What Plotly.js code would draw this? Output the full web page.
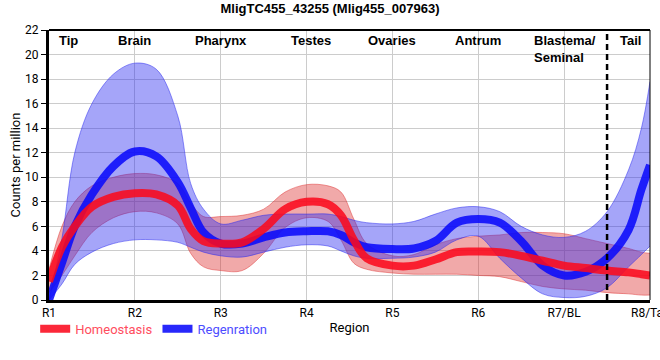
<!DOCTYPE html>
<html>
<head>
<meta charset="utf-8">
<script src="https://cdn.plot.ly/plotly-3.0.1.min.js"></script>
<style>html,body{margin:0;padding:0;background:#fff;}#chart{width:660px;height:360px;}</style>
</head>
<body>
<div id="chart"></div>
<script>
// Region tick labels
const tickPos = [1, 2, 3, 4, 5, 6, 7, 8];
const tickLabels = ['R1', 'R2', 'R3', 'R4', 'R5', 'R6', 'R7/BL', 'R8/Tail'];

// Sample positions along the body axis (region index)
const regionPos = [1, 1.15, 1.3, 1.5, 1.75, 2, 2.25, 2.5, 2.65, 2.8, 3, 3.25, 3.5, 3.75, 4, 4.25, 4.4, 4.55, 4.7, 5, 5.25, 5.5, 5.75, 6, 6.25, 6.5, 6.75, 7, 7.25, 7.5, 7.75, 7.9, 8];

// Homeostasis
const homeoMean  = [1.5, 4.3, 6.0, 7.6, 8.4, 8.7, 8.6, 7.7, 5.8, 4.8, 4.6, 4.7, 5.8, 7.4, 8.0, 7.8, 6.9, 4.9, 3.4, 2.8, 2.8, 3.3, 3.9, 3.95, 3.9, 3.6, 3.2, 2.8, 2.6, 2.4, 2.25, 2.1, 2.0];
const homeoUpper = [2.5, 6.0, 8.0, 9.3, 10.0, 10.3, 10.2, 9.5, 7.9, 6.8, 6.8, 6.9, 7.4, 8.8, 9.4, 9.3, 8.8, 6.6, 4.6, 3.6, 3.7, 4.5, 5.0, 5.2, 5.3, 5.5, 5.5, 5.4, 5.0, 4.6, 4.2, 3.9, 3.8];
const homeoLower = [0.6, 2.0, 3.6, 5.5, 6.7, 7.2, 7.1, 6.2, 3.8, 2.7, 2.4, 2.4, 3.8, 5.9, 6.7, 6.4, 4.9, 3.0, 2.5, 2.2, 2.1, 2.1, 2.1, 2.0, 1.9, 1.5, 1.1, 0.9, 0.8, 0.6, 0.5, 0.4, 0.4];

// Regeneration
const regenMean  = [0, 3.0, 6.0, 8.6, 10.9, 12.1, 11.7, 9.6, 7.5, 5.5, 4.6, 4.6, 5.1, 5.5, 5.6, 5.6, 5.3, 4.7, 4.3, 4.15, 4.2, 4.8, 6.3, 6.6, 6.3, 4.8, 2.8, 2.0, 2.3, 3.4, 5.7, 9.0, 11.0];
const regenUpper = [0, 5.0, 12.0, 16.0, 18.4, 19.3, 18.8, 15.0, 9.5, 7.4, 6.2, 6.5, 6.9, 7.0, 7.0, 7.0, 6.8, 6.5, 6.3, 6.2, 6.4, 7.0, 7.5, 7.6, 7.2, 6.0, 5.3, 5.1, 5.6, 7.2, 10.6, 14.0, 17.8];
const regenLower = [0, 1.3, 2.9, 3.9, 4.6, 4.9, 4.9, 4.7, 4.3, 3.9, 3.6, 3.5, 3.9, 4.3, 4.5, 4.4, 4.0, 3.6, 3.4, 3.4, 3.5, 3.9, 4.9, 5.2, 3.4, 1.8, 0.5, 0.2, 0.3, 1.0, 2.7, 3.7, 4.4];

// Region names shown at top
const regionNames = ['Tip', 'Brain', 'Pharynx', 'Testes', 'Ovaries', 'Antrum', 'Tail'];
const regionNamePos = [1.23, 2, 3, 4.05, 5, 6, 7.77];

const redFill = 'rgba(220,40,40,0.40)';
const redEdge = 'rgba(220,40,40,0.45)';
const blueFill = 'rgba(40,40,240,0.42)';
const blueEdge = 'rgba(40,40,240,0.5)';

const traces = [
  {x: regionPos, y: homeoLower, mode: 'lines', line: {shape: 'spline', color: redEdge, width: 1}, showlegend: false, hoverinfo: 'skip'},
  {x: regionPos, y: homeoUpper, mode: 'lines', fill: 'tonexty', fillcolor: redFill, line: {shape: 'spline', color: redEdge, width: 1}, showlegend: false, hoverinfo: 'skip'},
  {x: regionPos, y: regenLower, mode: 'lines', line: {shape: 'spline', color: blueEdge, width: 1}, showlegend: false, hoverinfo: 'skip'},
  {x: regionPos, y: regenUpper, mode: 'lines', fill: 'tonexty', fillcolor: blueFill, line: {shape: 'spline', color: blueEdge, width: 1}, showlegend: false, hoverinfo: 'skip'},
  {x: regionPos, y: regenMean, mode: 'lines', name: '<span style="color:#4d4dff">Regenration</span>', line: {shape: 'spline', color: 'rgba(10,10,250,0.88)', width: 8}},
  {x: regionPos, y: homeoMean, mode: 'lines', name: '<span style="color:#ff4d5e">Homeostasis</span>', line: {shape: 'spline', color: 'rgba(250,10,30,0.88)', width: 8}}
];

const annotations = regionNames.map((t, i) => ({
  x: regionNamePos[i], xref: 'x', y: 1, yref: 'paper', yanchor: 'top', yshift: -1,
  text: t, showarrow: false, font: {family: 'Liberation Sans, Arial, sans-serif', size: 13, color: '#000', weight: 'bold'}
}));
annotations.push({
  x: 6.63, xref: 'x', xanchor: 'left', y: 1, yref: 'paper', yanchor: 'top', yshift: -1, align: 'left',
  text: 'Blastema/<br>Seminal', showarrow: false,
  font: {family: 'Liberation Sans, Arial, sans-serif', size: 13, color: '#000', weight: 'bold'}
});

const layout = {
  width: 660, height: 360,
  margin: {l: 49, r: 10, t: 30, b: 60},
  paper_bgcolor: '#fff', plot_bgcolor: '#fff',
  title: {text: '<b>MligTC455_43255 (Mlig455_007963)</b>', x: 0.5, xref: 'container', y: 0.977, yanchor: 'middle',
          font: {family: 'Liberation Sans, Arial, sans-serif', size: 13, color: '#000'}},
  xaxis: {
    range: [1, 8], tickvals: tickPos, ticktext: tickLabels, ticklabeloverflow: 'allow',
    showgrid: true, gridcolor: '#cccccc', gridwidth: 1, zeroline: false,
    showline: true, linecolor: '#000', linewidth: 3,
    ticks: '', tickfont: {family: 'Roboto, sans-serif', size: 12, color: '#000'},
    title: {text: 'Region', font: {family: 'Roboto, sans-serif', size: 13, color: '#000'}, standoff: 4}
  },
  yaxis: {
    range: [0, 22], dtick: 2, tick0: 0,
    showgrid: true, gridcolor: '#cccccc', gridwidth: 1, zeroline: false,
    showline: true, linecolor: '#000', linewidth: 3,
    ticks: 'outside', ticklen: 5, tickcolor: '#000', tickwidth: 1,
    tickfont: {family: 'Roboto, sans-serif', size: 12, color: '#000'},
    title: {text: 'Counts per million', font: {family: 'Roboto, sans-serif', size: 13, color: '#000'}, standoff: 2}
  },
  legend: {orientation: 'h', x: -0.023, xanchor: 'left', y: -0.107, yanchor: 'middle',
           font: {family: 'Roboto, sans-serif', size: 13}, traceorder: 'reversed', itemwidth: 30, bgcolor: 'rgba(0,0,0,0)'},
  shapes: [
    {type: 'line', xref: 'x', yref: 'y', x0: 7.5, x1: 7.5, y0: 0, y1: 22, line: {color: '#000', width: 2.5, dash: '6px,4px'}},
    {type: 'line', xref: 'paper', yref: 'paper', x0: 0, x1: 1, y0: 1, y1: 1, line: {color: '#000', width: 2}},
    {type: 'line', xref: 'paper', yref: 'paper', x0: 1, x1: 1, y0: 0, y1: 1, line: {color: '#000', width: 1}}
  ],
  annotations: annotations,
  showlegend: true
};

Plotly.newPlot('chart', traces, layout, {displayModeBar: false, staticPlot: true});
</script>
</body>
</html>
